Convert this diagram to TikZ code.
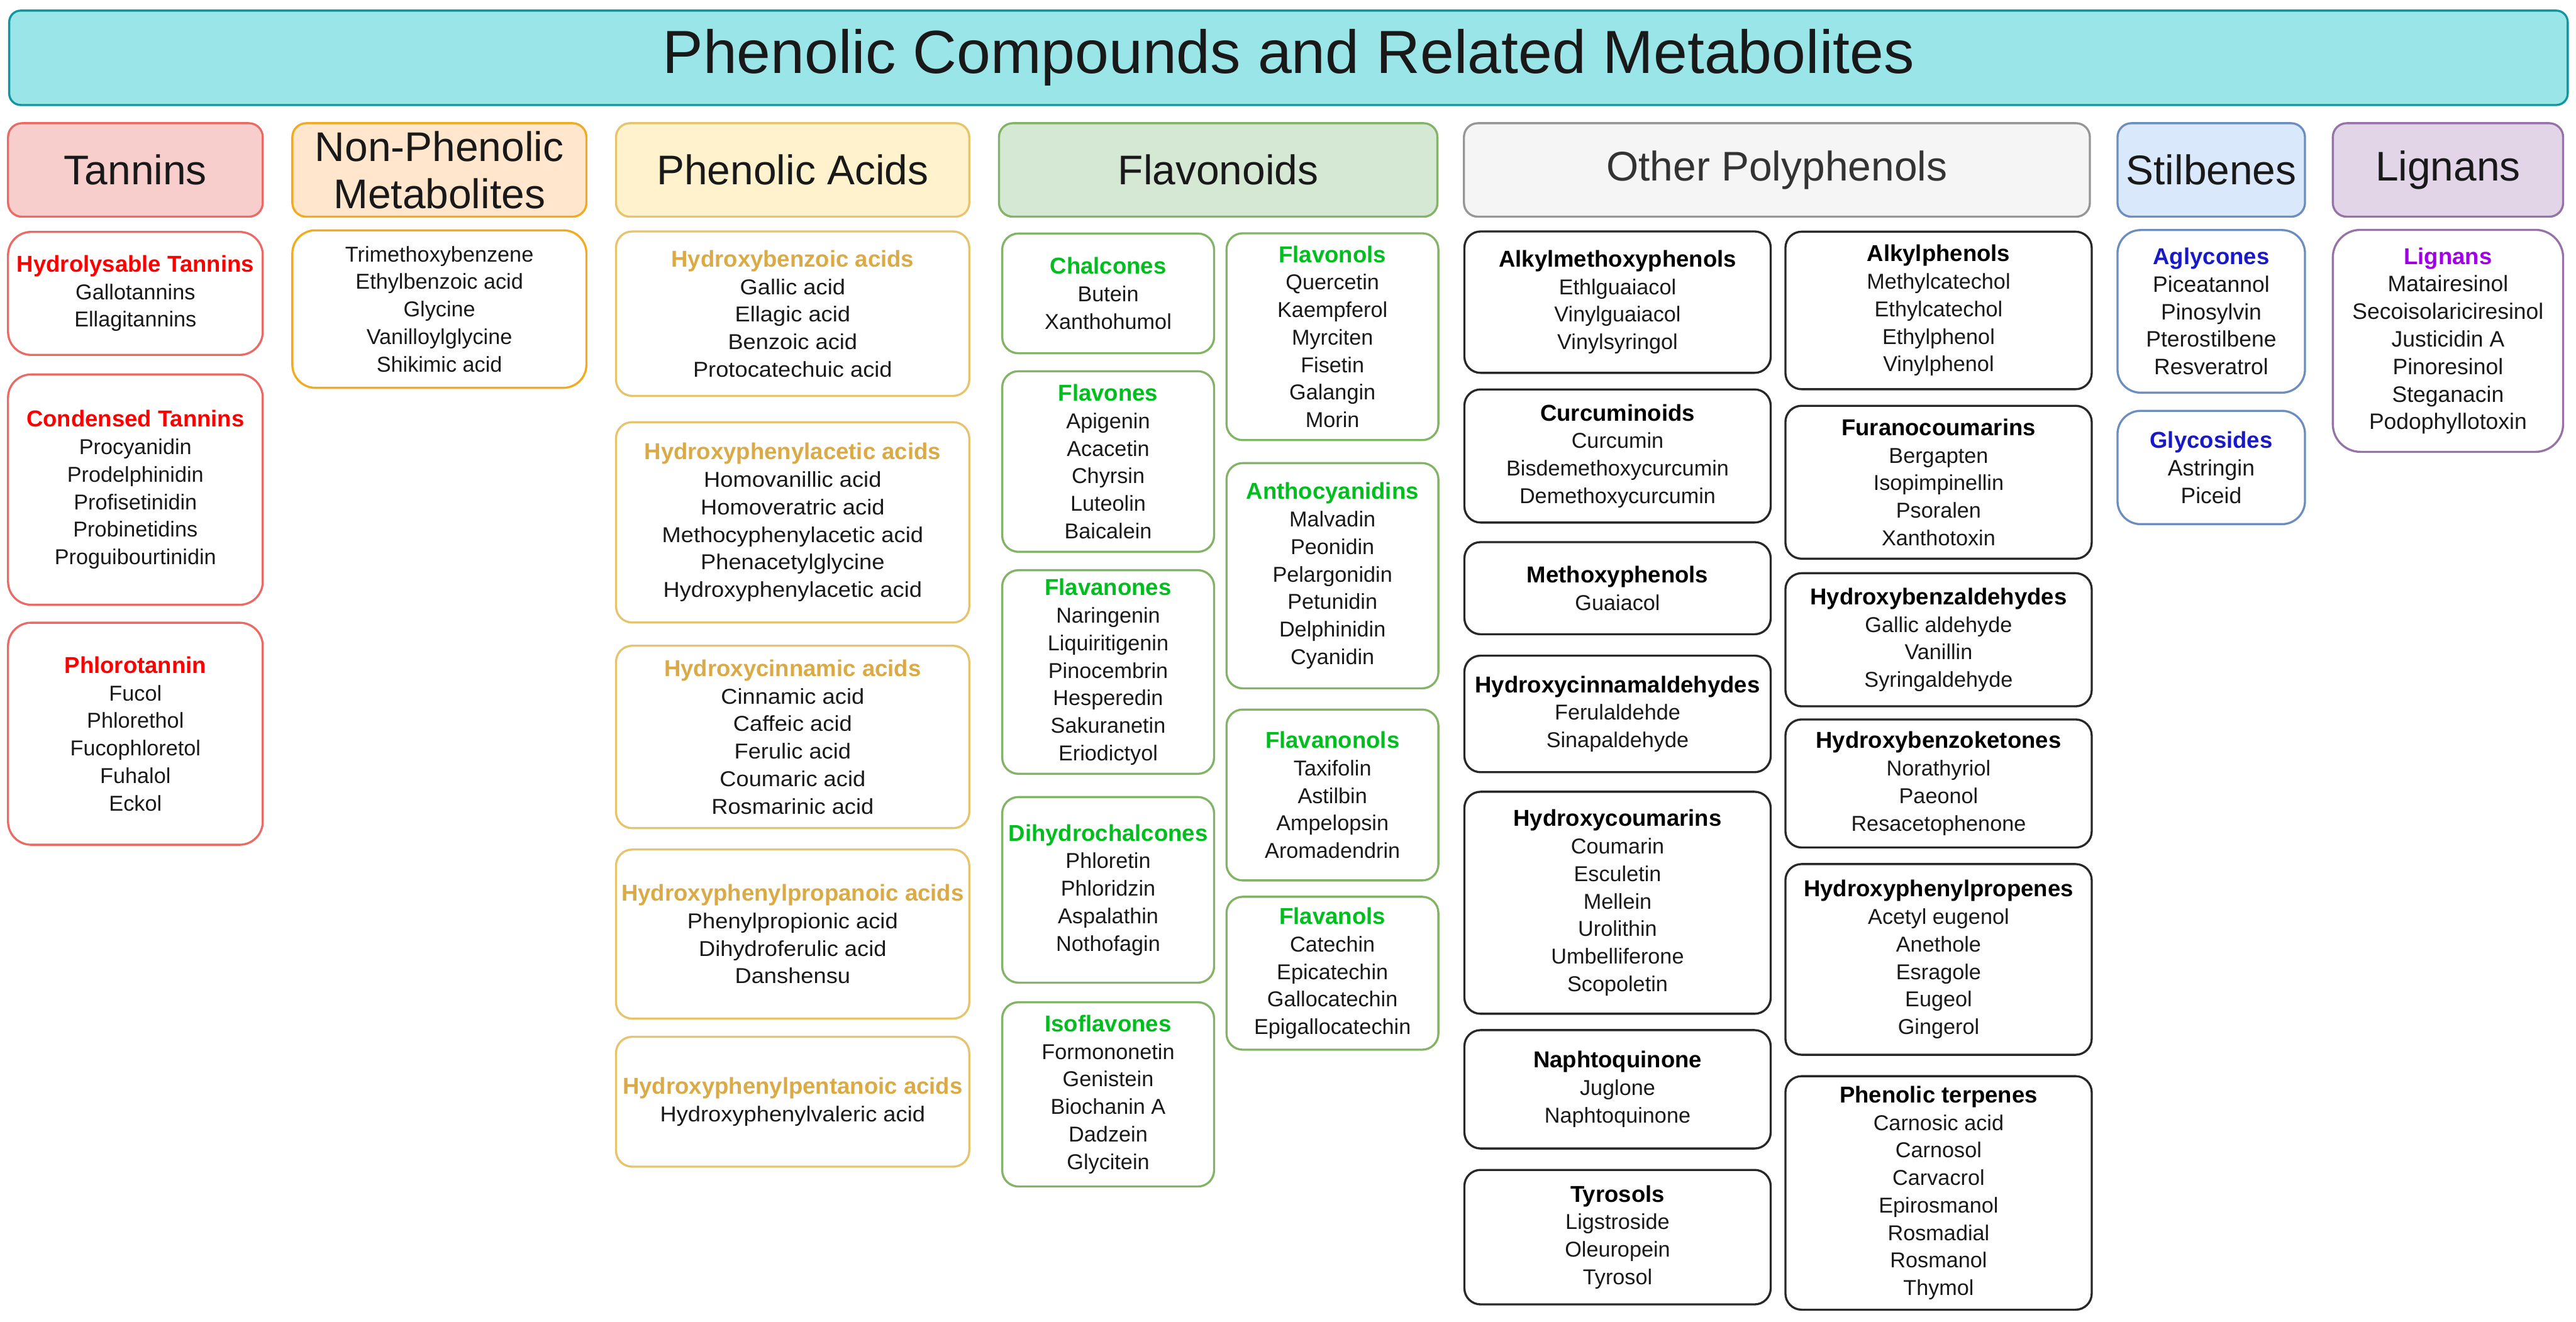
\documentclass[tikz,border=0pt]{standalone}
\usepackage{fontspec}
\setmainfont{Liberation Sans}
\newfontfamily\widesans[FakeStretch=1.06]{Liberation Sans}
\definecolor{ttlfill}{RGB}{154,229,232}
\definecolor{ttlline}{RGB}{16,150,160}
\definecolor{tanfill}{RGB}{248,206,204}
\definecolor{tanline}{RGB}{234,107,102}
\definecolor{tanhd}{RGB}{255,0,0}
\definecolor{npfill}{RGB}{255,230,204}
\definecolor{npline}{RGB}{242,170,30}
\definecolor{pafill}{RGB}{255,242,204}
\definecolor{paline}{RGB}{230,196,110}
\definecolor{pahd}{RGB}{218,170,70}
\definecolor{flfill}{RGB}{213,232,212}
\definecolor{flline}{RGB}{130,179,102}
\definecolor{flhd}{RGB}{0,190,30}
\definecolor{opfill}{RGB}{245,245,245}
\definecolor{opline}{RGB}{150,150,150}
\definecolor{opsub}{RGB}{40,40,40}
\definecolor{stfill}{RGB}{218,232,252}
\definecolor{stline}{RGB}{108,142,191}
\definecolor{sthd}{RGB}{25,25,200}
\definecolor{lgfill}{RGB}{225,213,231}
\definecolor{lgline}{RGB}{150,115,166}
\definecolor{lghd}{RGB}{160,0,230}
\newcommand{\grp}[2]{{\rmfamily\fontsize{14.2}{17}\selectfont\bfseries\textcolor{#1}{#2}}}
\begin{document}
\begin{tikzpicture}[
  box/.style={draw, rounded corners=0.35cm, align=center, line width=1.3pt, inner sep=0pt,
    text=black!90, font=\fontsize{13.3}{17}\selectfont},
  hdr/.style={box, rounded corners=0.3cm, font=\fontsize{25.6}{29}\selectfont, minimum height=2.03cm},
  tan/.style={box, draw=tanline, rounded corners=0.5cm, minimum width=5.53cm},
  np/.style={box, draw=npline, rounded corners=0.5cm, minimum width=6.385cm},
  pa/.style={box, draw=paline, minimum width=7.67cm, font=\widesans\fontsize{13.3}{17}\selectfont},
  fl/.style={box, draw=flline, minimum width=4.6cm},
  op/.style={box, draw=opsub, minimum width=6.65cm},
  st/.style={box, draw=stline, rounded corners=0.5cm, minimum width=4.07cm, font=\fontsize{13.8}{17}\selectfont},
  lg/.style={box, draw=lgline, rounded corners=0.6cm, minimum width=5.0cm, font=\fontsize{13.8}{17}\selectfont}]
\useasboundingbox (0,0) rectangle (55.93,-28.69);

% title
\node[box, draw=ttlline, fill=ttlfill, rounded corners=0.25cm, minimum width=55.55cm, minimum height=2.05cm,
  font=\fontsize{37.6}{42}\selectfont] (title) at (27.975,-1.255) {Phenolic Compounds and Related Metabolites};

% group headers
\node[hdr, draw=tanline, fill=tanfill, minimum width=5.53cm] (h1) at (2.94,-3.69) {Tannins};
\node[hdr, draw=npline, fill=npfill, minimum width=6.385cm] (h2) at (9.54,-3.69) {Non-Phenolic\\Metabolites};
\node[hdr, draw=paline, fill=pafill, minimum width=7.67cm] (h3) at (17.21,-3.69) {Phenolic Acids};
\node[hdr, draw=flline, fill=flfill, minimum width=9.52cm] (h4) at (26.45,-3.69) {Flavonoids};
\node[hdr, draw=opline, fill=opfill, minimum width=13.59cm, text=black!80] (h5) at (38.58,-3.69) {Other Polyphenols};
\node[hdr, draw=stline, fill=stfill, minimum width=4.07cm] (h6) at (48.01,-3.69) {Stilbenes};
\node[hdr, draw=lgline, fill=lgfill, minimum width=5.0cm] (h7) at (53.15,-3.69) {Lignans};

% tannins
\node[tan, minimum height=2.67cm] (t1) at (2.94,-6.37) {\grp{tanhd}{Hydrolysable Tannins}\\Gallotannins\\Ellagitannins};
\node[tan, minimum height=5.0cm] (t2) at (2.94,-10.63) {\grp{tanhd}{Condensed Tannins}\\Procyanidin\\Prodelphinidin\\Profisetinidin\\Probinetidins\\Proguibourtinidin};
\node[tan, minimum height=4.82cm] (t3) at (2.94,-15.93) {\grp{tanhd}{Phlorotannin}\\Fucol\\Phlorethol\\Fucophloretol\\Fuhalol\\Eckol};

% non-phenolic
\node[np, minimum height=3.42cm] (m1) at (9.54,-6.71) {Trimethoxybenzene\\Ethylbenzoic acid\\Glycine\\Vanilloylglycine\\Shikimic acid};

% phenolic acids
\node[pa, minimum height=3.57cm] (a1) at (17.21,-6.81) {\grp{pahd}{Hydroxybenzoic acids}\\Gallic acid\\Ellagic acid\\Benzoic acid\\Protocatechuic acid};
\node[pa, minimum height=4.35cm] (a2) at (17.21,-11.34) {\grp{pahd}{Hydroxyphenylacetic acids}\\Homovanillic acid\\Homoveratric acid\\Methocyphenylacetic acid\\Phenacetylglycine\\Hydroxyphenylacetic acid};
\node[pa, minimum height=3.96cm] (a3) at (17.21,-16.00) {\grp{pahd}{Hydroxycinnamic acids}\\Cinnamic acid\\Caffeic acid\\Ferulic acid\\Coumaric acid\\Rosmarinic acid};
\node[pa, minimum height=3.67cm] (a4) at (17.21,-20.28) {\grp{pahd}{Hydroxyphenylpropanoic acids}\\Phenylpropionic acid\\Dihydroferulic acid\\Danshensu};
\node[pa, minimum height=2.82cm] (a5) at (17.21,-23.92) {\grp{pahd}{Hydroxyphenylpentanoic acids}\\Hydroxyphenylvaleric acid};

% flavonoids, left
\node[fl, minimum height=2.6cm] (f1) at (24.06,-6.37) {\grp{flhd}{Chalcones}\\Butein\\Xanthohumol};
\node[fl, minimum height=3.92cm] (f2) at (24.06,-10.02) {\grp{flhd}{Flavones}\\Apigenin\\Acacetin\\Chyrsin\\Luteolin\\Baicalein};
\node[fl, minimum height=4.42cm] (f3) at (24.06,-14.59) {\grp{flhd}{Flavanones}\\Naringenin\\Liquiritigenin\\Pinocembrin\\Hesperedin\\Sakuranetin\\Eriodictyol};
\node[fl, minimum height=4.03cm] (f4) at (24.06,-19.32) {\grp{flhd}{Dihydrochalcones}\\Phloretin\\Phloridzin\\Aspalathin\\Nothofagin};
\node[fl, minimum height=4.0cm] (f5) at (24.06,-23.76) {\grp{flhd}{Isoflavones}\\Formononetin\\Genistein\\Biochanin A\\Dadzein\\Glycitein};
% flavonoids, right
\node[fl, minimum height=4.49cm] (f6) at (28.93,-7.31) {\grp{flhd}{Flavonols}\\Quercetin\\Kaempferol\\Myrciten\\Fisetin\\Galangin\\Morin};
\node[fl, minimum height=4.89cm] (f7) at (28.93,-12.50) {\grp{flhd}{Anthocyanidins}\\Malvadin\\Peonidin\\Pelargonidin\\Petunidin\\Delphinidin\\Cyanidin};
\node[fl, minimum height=3.71cm] (f8) at (28.93,-17.26) {\grp{flhd}{Flavanonols}\\Taxifolin\\Astilbin\\Ampelopsin\\Aromadendrin};
\node[fl, minimum height=3.32cm] (f9) at (28.93,-21.13) {\grp{flhd}{Flavanols}\\Catechin\\Epicatechin\\Gallocatechin\\Epigallocatechin};

% other polyphenols, left
\node[op, minimum height=3.07cm] (o1) at (35.12,-6.56) {\grp{black}{Alkylmethoxyphenols}\\Ethlguaiacol\\Vinylguaiacol\\Vinylsyringol};
\node[op, minimum height=2.89cm] (o2) at (35.12,-9.90) {\grp{black}{Curcuminoids}\\Curcumin\\Bisdemethoxycurcumin\\Demethoxycurcumin};
\node[op, minimum height=2.0cm] (o3) at (35.12,-12.77) {\grp{black}{Methoxyphenols}\\Guaiacol};
\node[op, minimum height=2.53cm] (o4) at (35.12,-15.50) {\grp{black}{Hydroxycinnamaldehydes}\\Ferulaldehde\\Sinapaldehyde};
\node[op, minimum height=4.82cm] (o5) at (35.12,-19.60) {\grp{black}{Hydroxycoumarins}\\Coumarin\\Esculetin\\Mellein\\Urolithin\\Umbelliferone\\Scopoletin};
\node[op, minimum height=2.57cm] (o6) at (35.12,-23.65) {\grp{black}{Naphtoquinone}\\Juglone\\Naphtoquinone};
\node[op, minimum height=2.92cm] (o7) at (35.12,-26.86) {\grp{black}{Tyrosols}\\Ligstroside\\Oleuropein\\Tyrosol};
% other polyphenols, right
\node[op, minimum height=3.42cm] (o8) at (42.09,-6.74) {\grp{black}{Alkylphenols}\\Methylcatechol\\Ethylcatechol\\Ethylphenol\\Vinylphenol};
\node[op, minimum height=3.32cm] (o9) at (42.09,-10.47) {\grp{black}{Furanocoumarins}\\Bergapten\\Isopimpinellin\\Psoralen\\Xanthotoxin};
\node[op, minimum height=2.89cm] (o10) at (42.09,-13.89) {\grp{black}{Hydroxybenzaldehydes}\\Gallic aldehyde\\Vanillin\\Syringaldehyde};
\node[op, minimum height=2.78cm] (o11) at (42.09,-17.01) {\grp{black}{Hydroxybenzoketones}\\Norathyriol\\Paeonol\\Resacetophenone};
\node[op, minimum height=4.14cm] (o12) at (42.09,-20.83) {\grp{black}{Hydroxyphenylpropenes}\\Acetyl eugenol\\Anethole\\Esragole\\Eugeol\\Gingerol};
\node[op, minimum height=5.07cm] (o13) at (42.09,-25.90) {\grp{black}{Phenolic terpenes}\\Carnosic acid\\Carnosol\\Carvacrol\\Epirosmanol\\Rosmadial\\Rosmanol\\Thymol};

% stilbenes
\node[st, minimum height=3.53cm] (s1) at (48.01,-6.76) {\grp{sthd}{Aglycones}\\Piceatannol\\Pinosylvin\\Pterostilbene\\Resveratrol};
\node[st, minimum height=2.46cm] (s2) at (48.01,-10.15) {\grp{sthd}{Glycosides}\\Astringin\\Piceid};

% lignans
\node[lg, minimum height=4.82cm] (l1) at (53.15,-7.40) {\grp{lghd}{Lignans}\\Matairesinol\\Secoisolariciresinol\\Justicidin A\\Pinoresinol\\Steganacin\\Podophyllotoxin};
\end{tikzpicture}
\end{document}
